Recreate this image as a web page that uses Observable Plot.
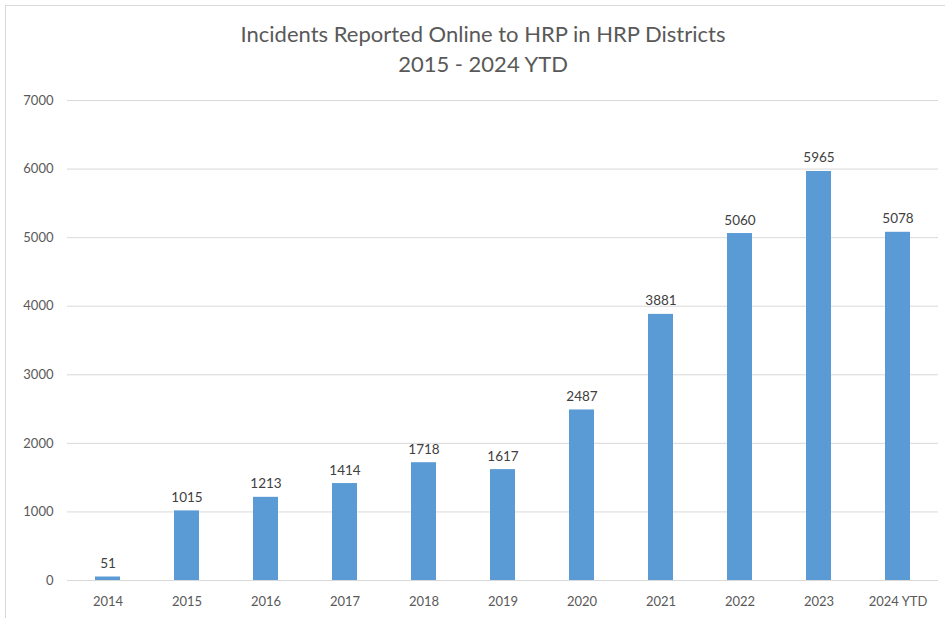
<!DOCTYPE html>
<html>
<head>
<meta charset="utf-8">
<script src="https://cdn.jsdelivr.net/npm/d3@7"></script>
<script src="https://cdn.jsdelivr.net/npm/@observablehq/plot@0.6"></script>
<style>
  html, body { margin: 0; padding: 0; background: #fff; }
  #wrap { position: relative; width: 945px; height: 618px; overflow: hidden; font-family: Lato, "Open Sans", sans-serif; }
  #frame { position: absolute; left: 5px; top: 5px; width: 960px; height: 640px; border: 1px solid #d9d9d9; box-sizing: border-box; }
  #title { position: absolute; left: 0; top: 19px; width: 966px; text-align: center; color: #595959; font-size: 22px; line-height: 30px; }
  #chart { position: absolute; left: 0; top: 85px; }
</style>
</head>
<body>
<div id="wrap">
  <div id="frame"></div>
  <div id="title">Incidents Reported Online to HRP in HRP Districts<br>2015 - 2024 YTD</div>
  <div id="chart"></div>
</div>
<script>
const categories = ["2014", "2015", "2016", "2017", "2018", "2019", "2020", "2021", "2022", "2023", "2024 YTD"];
const values = [51, 1015, 1213, 1414, 1718, 1617, 2487, 3881, 5060, 5965, 5078];
const yTicks = [0, 1000, 2000, 3000, 4000, 5000, 6000, 7000];

const data = categories.map((c, i) => ({category: c, value: values[i]}));

const chart = Plot.plot({
  width: 945,
  height: 533,
  marginTop: 15,
  marginBottom: 38,
  marginLeft: 67,
  marginRight: 7,
  style: {fontFamily: "Lato, 'Open Sans', sans-serif", fontSize: "13px", color: "#595959", background: "transparent"},
  x: {domain: categories, paddingInner: 0.68, paddingOuter: 0.34, label: null, tickSize: 0, tickPadding: 16},
  y: {domain: [0, 7000], ticks: yTicks, label: null, tickSize: 0, tickPadding: 14, tickFormat: d => String(d)},
  marks: [
    Plot.gridY(yTicks, {stroke: "#d9d9d9", strokeOpacity: 1, strokeWidth: 1}),
    Plot.barY(data, {x: "category", y: "value", fill: "#5b9bd5"}),
    Plot.text(data, {x: "category", y: "value", text: d => String(d.value), lineAnchor: "bottom", dy: -9, fill: "#404040", fontSize: 13.5}),
    Plot.axisX({tickSize: 0, tickPadding: 16, fill: "#595959", fontSize: 13}),
    Plot.axisY({ticks: yTicks, tickSize: 0, tickPadding: 14, fill: "#595959", fontSize: 13, tickFormat: d => String(d)})
  ]
});
document.getElementById("chart").appendChild(chart);
</script>
</body>
</html>
